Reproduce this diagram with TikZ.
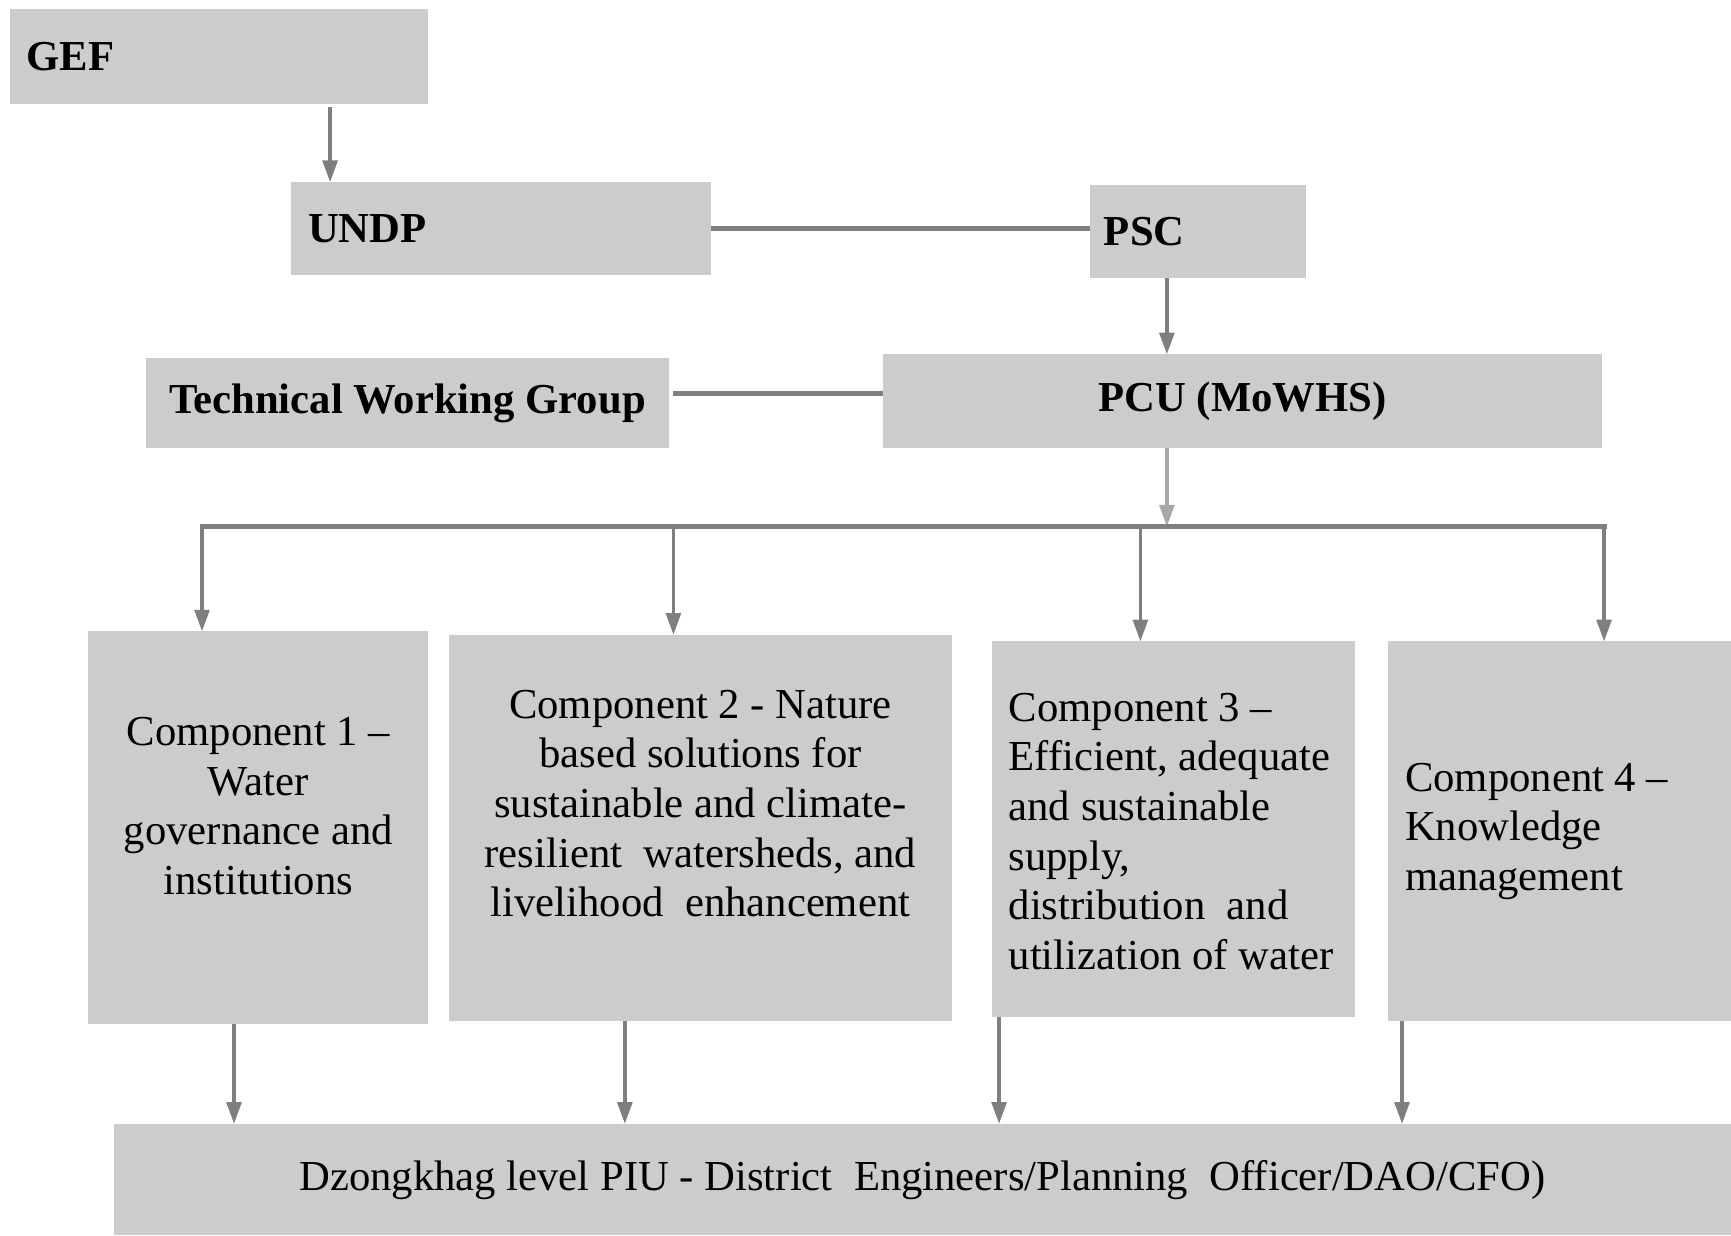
\documentclass[tikz,border=0pt]{standalone}
\usepackage{fontspec}
\setmainfont{Liberation Serif}
\usetikzlibrary{arrows.meta,calc,positioning}
\definecolor{boxgray}{HTML}{CCCCCC}
\definecolor{linegray}{HTML}{7F7F7F}
\definecolor{palegray}{HTML}{A8A8A8}
\tikzset{>={Triangle[width=3.8pt,length=5.6pt]}}
\tikzset{box/.style={fill=boxgray, inner sep=0pt, outer sep=0pt, font=\fontsize{11}{12.8}\selectfont}}
\tikzset{head/.style={box, font=\fontsize{11}{12.8}\selectfont\bfseries}}
\tikzset{txt/.style={inner sep=0pt, font=\fontsize{11}{12.8}\selectfont}}
\tikzset{wire/.style={draw=linegray, line width=1.3pt, line cap=rect}}
\tikzset{arr/.style={->, draw=linegray, fill=linegray, line width=0.9pt}}

\begin{document}
\begin{tikzpicture}
      \useasboundingbox (0,0) rectangle (15.68,-11.19);
      % top of the chart
      \node[head, minimum width=3.79cm, minimum height=0.86cm, text width=3.49cm, align=left] (gef) at (1.985,-0.51) {GEF};
      \node[head, minimum width=3.80cm, minimum height=0.84cm, text width=3.50cm, align=left] (undp) at (4.54,-2.07) {UNDP};
      \node[head, minimum width=1.96cm, minimum height=0.84cm, text width=1.70cm, align=left] (psc) at (10.85,-2.10) {PSC};
      \node[head, minimum width=4.74cm, minimum height=0.82cm] (twg) at (3.69,-3.65) {Technical Working Group};
      \node[head, minimum width=6.51cm, minimum height=0.85cm] (pcu) at (11.255,-3.635) {PCU (MoWHS)};
      % components
      \node[box, minimum width=3.08cm, minimum height=3.56cm] (c1) at (2.34,-7.50) {};
      \node[box, minimum width=4.55cm, minimum height=3.50cm] (c2) at (6.345,-7.50) {};
      \node[box, minimum width=3.28cm, minimum height=3.40cm] (c3) at (10.63,-7.51) {};
      \node[box, minimum width=3.11cm, minimum height=3.44cm] (c4) at (14.125,-7.53) {};
      \node[txt, align=center] (c1t) at ([yshift=2mm]c1.center) {Component 1 –\\Water\\governance and\\institutions};
      \node[txt, align=center] (c2t) at ([yshift=2.2mm]c2.center) {Component 2 - Nature\\based solutions for\\sustainable and climate-\\resilient\ \ watersheds, and\\livelihood\ \ enhancement};
      \node[txt, align=left, anchor=west] (c3t) at ([xshift=1.4mm,yshift=-0.2mm]c3.west) {Component 3 –\\Efficient, adequate\\and sustainable\\supply,\\distribution\ \ and\\utilization of water};
      \node[txt, align=left, anchor=west] (c4t) at ([xshift=1.5mm]c4.west) {Component 4 –\\Knowledge\\management};
      \node[box, minimum width=14.65cm, minimum height=1.01cm] (piu) at (8.355,-10.685) {Dzongkhag level PIU - District\ \ Engineers/Planning\ \ Officer/DAO/CFO)};
      % connectors
      \coordinate (g1) at ([xshift=3.5mm]undp.north west);
      \draw[arr] ([yshift=-0.3mm]g1 |- gef.south) -- (g1);
      \draw[wire, line cap=butt] (undp.east) -- (undp.east -| psc.west);
      \coordinate (bus) at ([xshift=2.57cm,yshift=-7.1mm]pcu.south west);
      \draw[arr] (bus |- psc.south) -- (bus |- pcu.north);
      \coordinate (t1) at ([yshift=0.9mm]twg.east);
      \draw[wire, line cap=butt] ([xshift=0.4mm]t1) -- (t1 -| pcu.west);
      \draw[arr, draw=palegray, fill=palegray] (bus |- pcu.south) -- (bus);
      \foreach \n/\dx in {1/1.03,2/2.03,3/1.34,4/1.96}
        \coordinate (d\n) at ([xshift=\dx cm]c\n.north west);
      \draw[wire] (d1 |- bus) -- (d4 |- bus);
      \foreach \n in {1,...,4}
        \draw[arr] (d\n |- bus) -- (d\n);
      \foreach \n/\dx in {1/1.32,2/1.59,3/0.06,4/0.13} {
        \coordinate (u\n) at ([xshift=\dx cm]c\n.south west);
        \draw[arr] (u\n) -- (u\n |- piu.north);
      }
    \end{tikzpicture}
\end{document}
